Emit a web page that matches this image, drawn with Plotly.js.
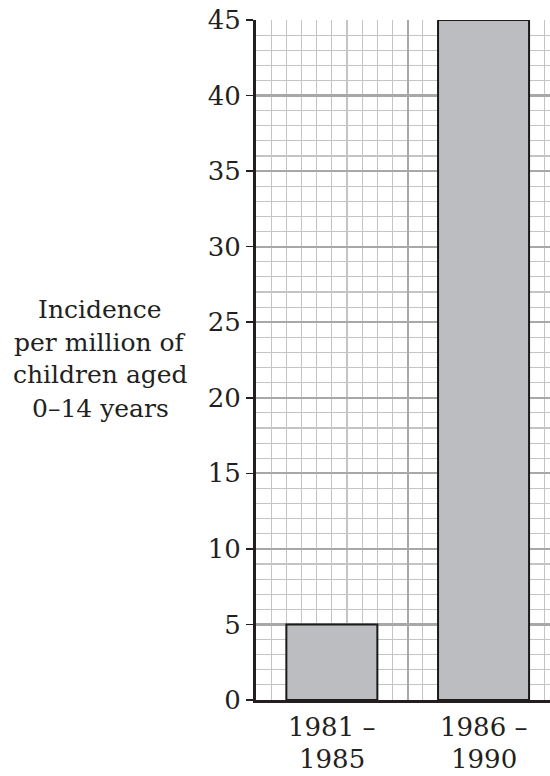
<!DOCTYPE html>
<html>
<head>
<meta charset="utf-8">
<script src="https://cdn.plot.ly/plotly-3.0.1.min.js"></script>
<style>html,body{margin:0;padding:0;background:#fff;}#chart{width:550px;height:776px;}</style>
</head>
<body>
<div id="chart"></div>
<script>
// Data
const periodStart = ["1981 –", "1986 –"];
const periodEnd = ["1985", "1990"];
const incidence = [5, 45];
const yTitleLines = ["Incidence", "per million of", "children aged", "0–14 years"];

const FONT = "\"DejaVu Serif\", serif";
const W = 550, H = 776;
const M = {l: 256, r: 0, t: 20, b: 76};
const plotH = H - M.t - M.b;
const pyToPaper = py => (H - M.b - py) / plotH;
const pxToPaper = px => (px - M.l) / (W - M.l - M.r);

const xIdx = incidence.map((_, i) => i);

const trace = {
  type: 'bar',
  x: xIdx,
  y: incidence,
  width: 0.6,
  marker: {color: '#bcbdc1', line: {color: '#1a1a1a', width: 2}},
  hoverinfo: 'skip'
};

const annotations = [];
const titleCenters = [309, 342, 375, 408];
yTitleLines.forEach((t, i) => {
  annotations.push({
    text: t, xref: 'paper', yref: 'paper',
    x: pxToPaper(100), y: pyToPaper(titleCenters[i]),
    xanchor: 'center', yanchor: 'middle', showarrow: false,
    font: {family: FONT, size: 25, color: '#231f20'}
  });
});
xIdx.forEach(i => {
  annotations.push({
    text: periodStart[i], xref: 'x', yref: 'paper',
    x: i, y: pyToPaper(727), xanchor: 'center', yanchor: 'middle', showarrow: false,
    font: {family: FONT, size: 26, color: '#231f20'}
  });
  annotations.push({
    text: periodEnd[i], xref: 'x', yref: 'paper',
    x: i, y: pyToPaper(776), xanchor: 'center', yanchor: 'bottom', showarrow: false,
    font: {family: FONT, size: 26, color: '#231f20'}
  });
});

const layout = {
  width: W, height: H,
  margin: M,
  paper_bgcolor: '#fff', plot_bgcolor: '#fff',
  showlegend: false,
  xaxis: {
    range: [-0.5, -0.5 + (W - M.l - M.r) / 151.7],
    tick0: -0.5, dtick: 1,
    showgrid: true, gridcolor: '#a8a8a8', gridwidth: 2.2,
    minor: {tick0: -0.5, dtick: 0.1, showgrid: true, gridcolor: '#c4c4c4', gridwidth: 1.2},
    showticklabels: false, ticks: '',
    showline: true, linecolor: '#231f20', linewidth: 3,
    zeroline: false, fixedrange: true
  },
  yaxis: {
    range: [0, 45],
    tick0: 0, dtick: 5,
    showgrid: true, gridcolor: '#a8a8a8', gridwidth: 2.2,
    minor: {dtick: 1, showgrid: true, gridcolor: '#c4c4c4', gridwidth: 1.2},
    ticks: 'outside', ticklen: 7, tickwidth: 1.5, tickcolor: '#231f20',
    tickfont: {family: FONT, size: 26, color: '#231f20'},
    showline: true, linecolor: '#231f20', linewidth: 3,
    zeroline: false, fixedrange: true
  },
  annotations: annotations
};

Plotly.newPlot('chart', [trace], layout, {displayModeBar: false, staticPlot: true});
</script>
</body>
</html>
